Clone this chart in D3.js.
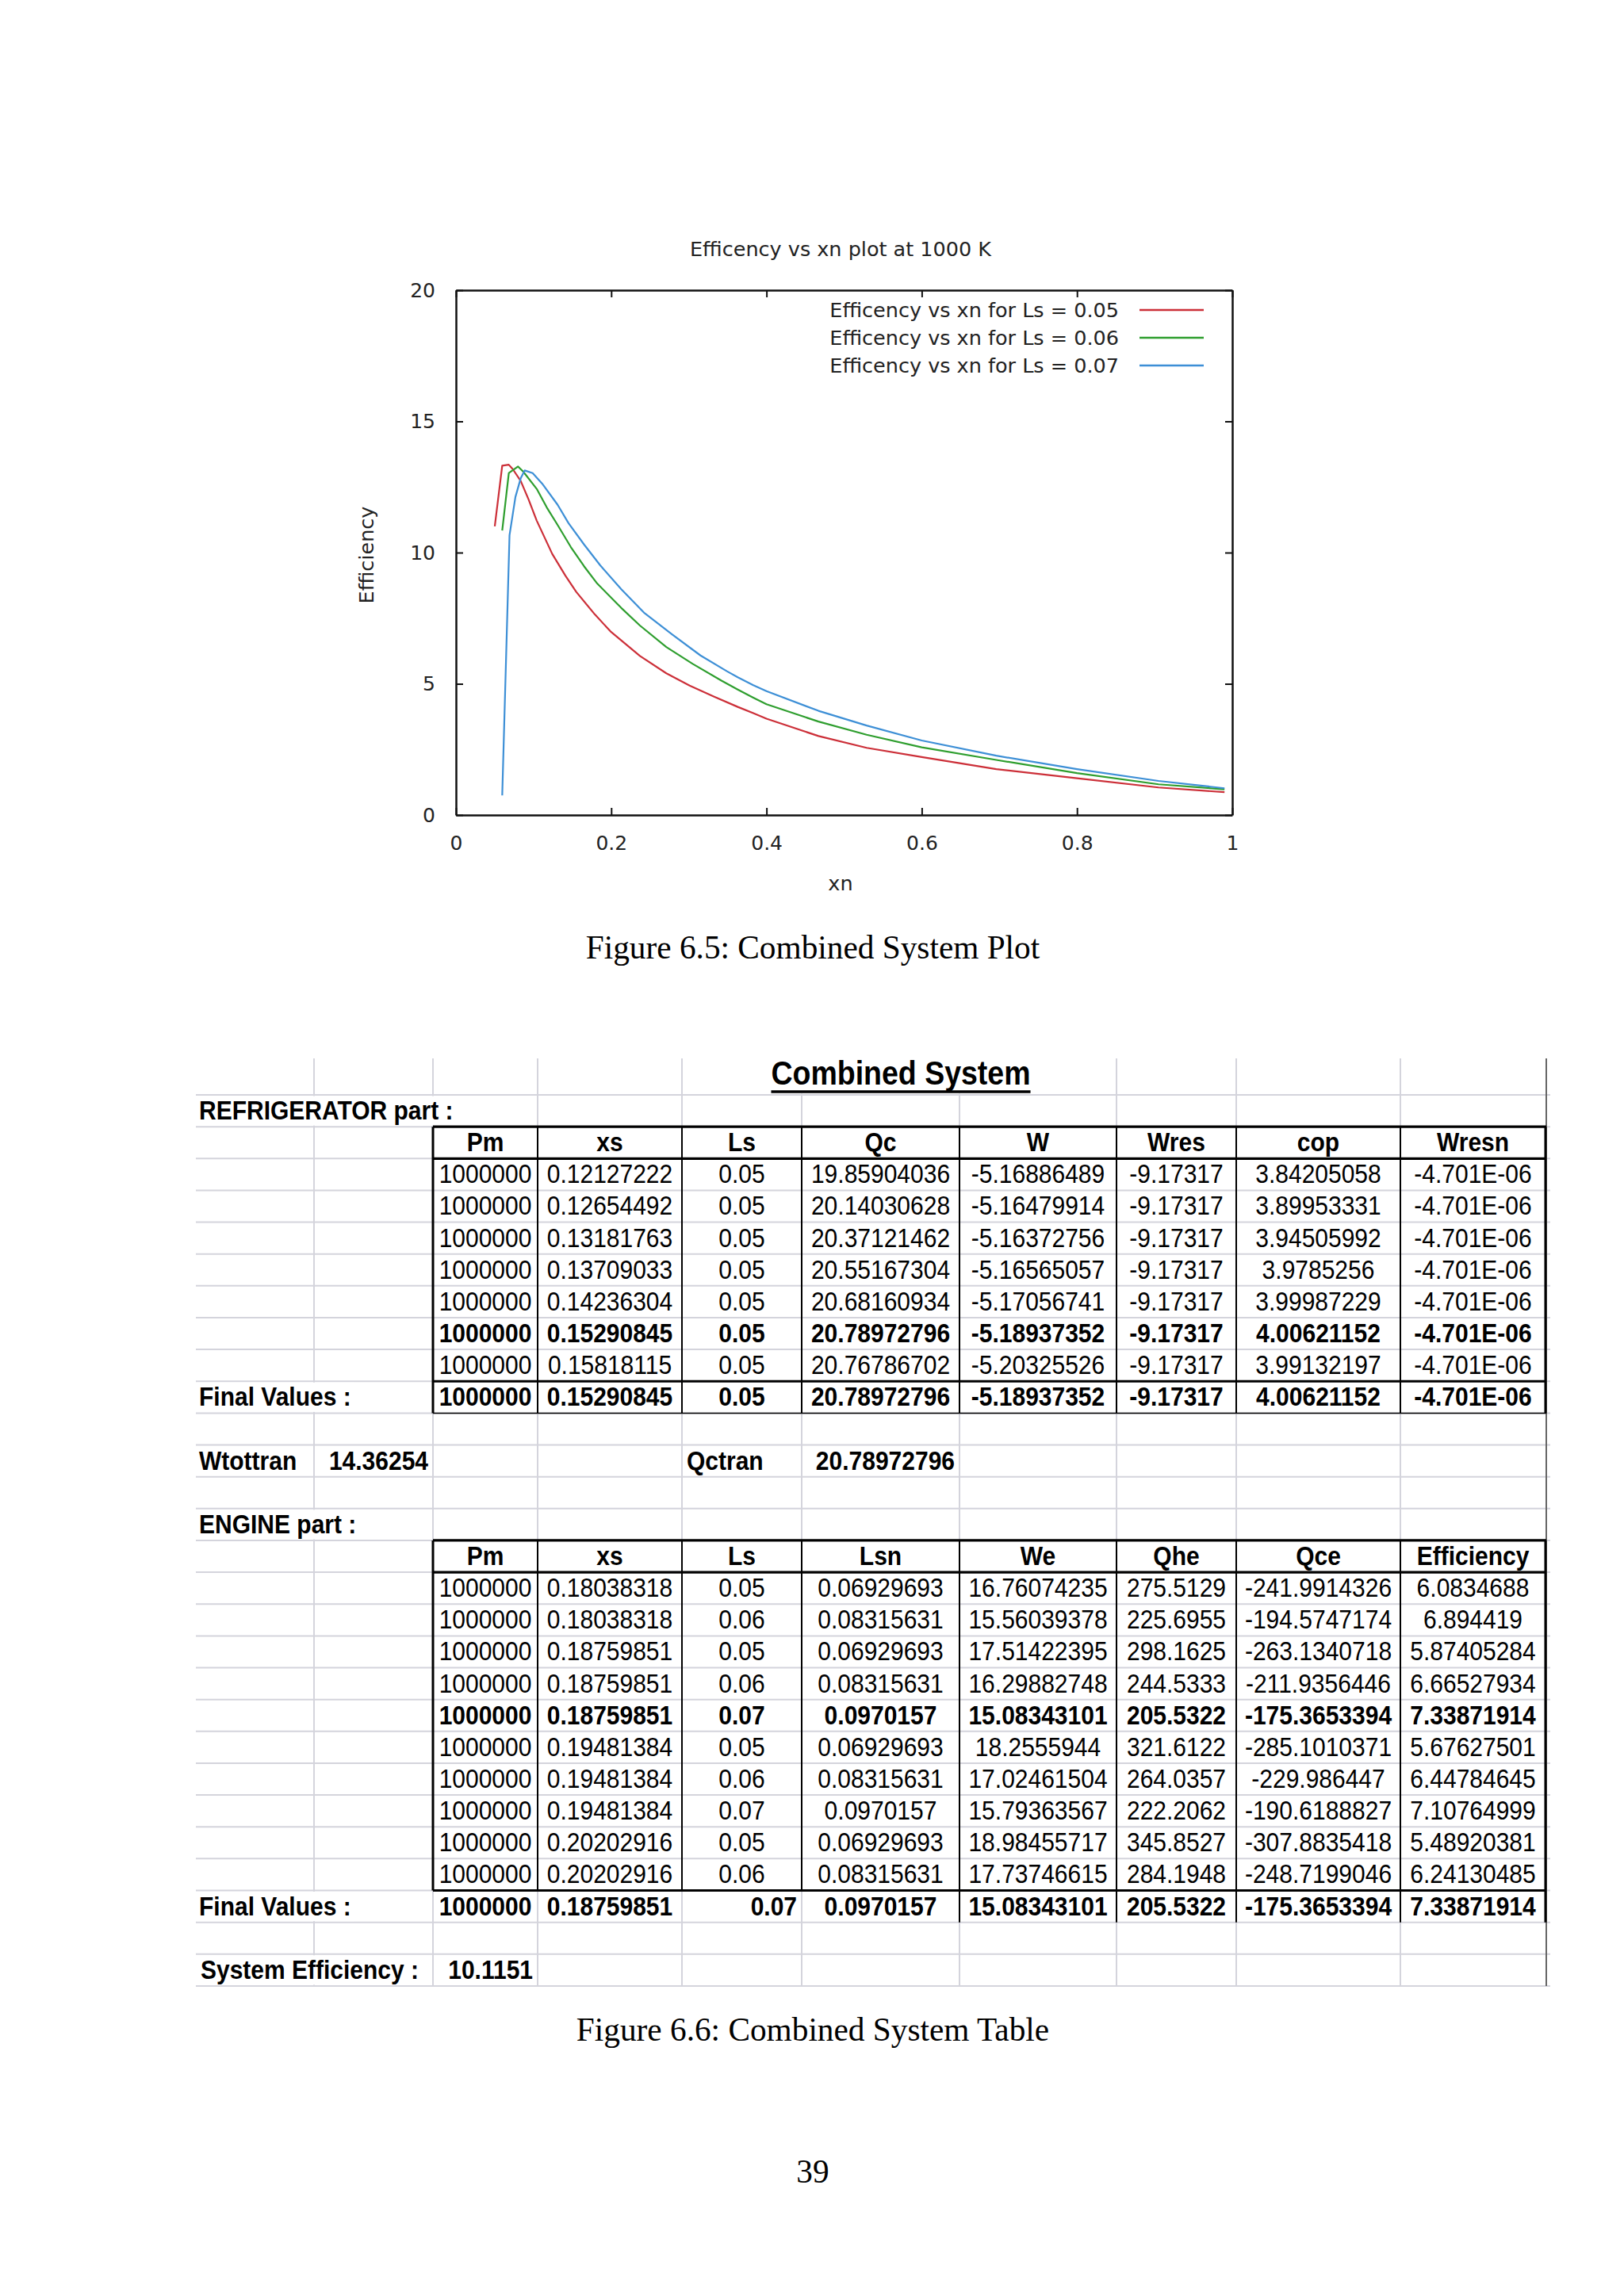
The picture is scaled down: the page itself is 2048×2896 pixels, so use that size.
<!DOCTYPE html>
<html><head><meta charset="utf-8">
<script src="https://cdn.jsdelivr.net/npm/d3@7"></script>
<style>body{margin:0;background:#fff}</style>
</head><body><svg id="c" width="2048" height="2896"></svg>
<script>
// ---------------- chart data ----------------
const chartTitle = "Efficency vs xn plot at 1000 K";
const xLabel = "xn";
const yLabel = "Efficiency";
const xTicks = [0, 0.2, 0.4, 0.6, 0.8, 1];
const yTicks = [0, 5, 10, 15, 20];
const seriesNames = ["Efficency vs xn for Ls = 0.05", "Efficency vs xn for Ls = 0.06", "Efficency vs xn for Ls = 0.07"];
const seriesColors = ["#cc2f38", "#2e9e2e", "#3d8fd6"];

const xnLs005  = [0.050,0.0596,0.068,0.0732,0.0834,0.0936,0.104,0.124,0.141,0.155,0.179,0.199,0.237,0.271,0.301,0.332,0.363,0.383,0.400,0.467,0.529,0.600,0.696,0.800,0.905,0.990];
const effLs005 = [11.0,13.31,13.35,13.18,12.73,12.02,11.22,9.95,9.12,8.50,7.64,7.00,6.06,5.40,4.93,4.52,4.12,3.88,3.67,3.01,2.56,2.21,1.75,1.40,1.05,0.87];
const xnLs006  = [0.0596,0.0681,0.080,0.0868,0.104,0.117,0.131,0.148,0.165,0.182,0.213,0.237,0.271,0.305,0.342,0.363,0.383,0.400,0.467,0.529,0.600,0.696,0.800,0.905,0.990];
const effLs006 = [10.84,13.03,13.28,13.08,12.43,11.72,11.05,10.21,9.48,8.82,7.89,7.22,6.40,5.76,5.12,4.78,4.47,4.22,3.56,3.06,2.58,2.10,1.60,1.17,0.98];
const xnLs007  = [0.0596,0.069,0.0766,0.0834,0.0885,0.0988,0.111,0.131,0.145,0.165,0.186,0.213,0.243,0.278,0.315,0.349,0.363,0.383,0.400,0.467,0.529,0.600,0.696,0.800,0.905,0.990];
const effLs007 = [0.75,10.66,12.12,12.83,13.13,13.03,12.63,11.82,11.12,10.31,9.51,8.60,7.69,6.89,6.08,5.48,5.25,4.95,4.72,3.97,3.41,2.84,2.26,1.75,1.30,1.02];

// ---------------- table data ----------------
const tableTitle = "Combined System";
const refrigLabel = "REFRIGERATOR part :";
const engineLabel = "ENGINE part :";
const finalLabel = "Final Values :";
const refrigHeaders = ["Pm","xs","Ls","Qc","W","Wres","cop","Wresn"];
const refrigPm   = ["1000000","1000000","1000000","1000000","1000000","1000000","1000000"];
const refrigXs   = ["0.12127222","0.12654492","0.13181763","0.13709033","0.14236304","0.15290845","0.15818115"];
const refrigLs   = ["0.05","0.05","0.05","0.05","0.05","0.05","0.05"];
const refrigQc   = ["19.85904036","20.14030628","20.37121462","20.55167304","20.68160934","20.78972796","20.76786702"];
const refrigW    = ["-5.16886489","-5.16479914","-5.16372756","-5.16565057","-5.17056741","-5.18937352","-5.20325526"];
const refrigWres = ["-9.17317","-9.17317","-9.17317","-9.17317","-9.17317","-9.17317","-9.17317"];
const refrigCop  = ["3.84205058","3.89953331","3.94505992","3.9785256","3.99987229","4.00621152","3.99132197"];
const refrigWresn= ["-4.701E-06","-4.701E-06","-4.701E-06","-4.701E-06","-4.701E-06","-4.701E-06","-4.701E-06"];
const refrigBoldRow = 5;
const refrigFinal = ["1000000","0.15290845","0.05","20.78972796","-5.18937352","-9.17317","4.00621152","-4.701E-06"];
const wtotLabel = "Wtottran", wtotValue = "14.36254";
const qctranLabel = "Qctran", qctranValue = "20.78972796";

const engineHeaders = ["Pm","xs","Ls","Lsn","We","Qhe","Qce","Efficiency"];
const enginePm  = ["1000000","1000000","1000000","1000000","1000000","1000000","1000000","1000000","1000000","1000000"];
const engineXs  = ["0.18038318","0.18038318","0.18759851","0.18759851","0.18759851","0.19481384","0.19481384","0.19481384","0.20202916","0.20202916"];
const engineLs  = ["0.05","0.06","0.05","0.06","0.07","0.05","0.06","0.07","0.05","0.06"];
const engineLsn = ["0.06929693","0.08315631","0.06929693","0.08315631","0.0970157","0.06929693","0.08315631","0.0970157","0.06929693","0.08315631"];
const engineWe  = ["16.76074235","15.56039378","17.51422395","16.29882748","15.08343101","18.2555944","17.02461504","15.79363567","18.98455717","17.73746615"];
const engineQhe = ["275.5129","225.6955","298.1625","244.5333","205.5322","321.6122","264.0357","222.2062","345.8527","284.1948"];
const engineQce = ["-241.9914326","-194.5747174","-263.1340718","-211.9356446","-175.3653394","-285.1010371","-229.986447","-190.6188827","-307.8835418","-248.7199046"];
const engineEff = ["6.0834688","6.894419","5.87405284","6.66527934","7.33871914","5.67627501","6.44784645","7.10764999","5.48920381","6.24130485"];
const engineBoldRow = 4;
const engineFinal = ["1000000","0.18759851","0.07","0.0970157","15.08343101","205.5322","-175.3653394","7.33871914"];
const sysEffLabel = "System Efficiency :", sysEffValue = "10.1151";

const caption1 = "Figure 6.5: Combined System Plot";
const caption2 = "Figure 6.6: Combined System Table";
const pageNumber = "39";

// ---------------- drawing ----------------
const svg = d3.select("#c");
svg.append("rect").attr("width",2048).attr("height",2896).attr("fill","#fff");

const chartFont = '"DejaVu Sans", sans-serif';
const X = d3.scaleLinear().domain([0,1]).range([575,1554]);
const Y = d3.scaleLinear().domain([0,20]).range([1028,366]);

function styleAxis(g){
  g.attr("font-family", chartFont).attr("font-size", 25);
  g.select(".domain").attr("stroke","#111").attr("stroke-width",2.5);
  g.selectAll(".tick line").attr("stroke","#111").attr("stroke-width",2);
  g.selectAll(".tick text").attr("fill","#222");
}
svg.append("g").attr("transform","translate(0,1028)")
  .call(d3.axisBottom(X).tickValues(xTicks).tickFormat(d=>String(d)).tickSizeInner(-9).tickSizeOuter(0).tickPadding(26)).call(styleAxis);
svg.append("g").attr("transform","translate(0,366)")
  .call(d3.axisTop(X).tickValues(xTicks).tickFormat("").tickSizeInner(-9).tickSizeOuter(0)).call(styleAxis);
svg.append("g").attr("transform","translate(575,0)")
  .call(d3.axisLeft(Y).tickValues(yTicks).tickFormat(d=>String(d)).tickSizeInner(-9).tickSizeOuter(0).tickPadding(26)).call(styleAxis);
svg.append("g").attr("transform","translate(1554,0)")
  .call(d3.axisRight(Y).tickValues(yTicks).tickFormat("").tickSizeInner(-9).tickSizeOuter(0)).call(styleAxis);

svg.append("text").attr("x",1060).attr("y",323).attr("text-anchor","middle")
  .attr("font-family",chartFont).attr("font-size",25.5).attr("fill","#222").text(chartTitle);
svg.append("text").attr("x",1060).attr("y",1123).attr("text-anchor","middle")
  .attr("font-family",chartFont).attr("font-size",25.5).attr("fill","#222").text(xLabel);
svg.append("text").attr("transform","translate(471,700) rotate(-90)").attr("text-anchor","middle")
  .attr("font-family",chartFont).attr("font-size",25.5).attr("fill","#222").text(yLabel);

const seriesX = [xnLs005, xnLs006, xnLs007];
const seriesY = [effLs005, effLs006, effLs007];
const line = d3.line().x(d=>X(d[0])).y(d=>Y(d[1]));
seriesX.forEach((xs,i)=>{
  const pts = xs.map((v,j)=>[v, seriesY[i][j]]);
  svg.append("path").datum(pts).attr("d",line).attr("fill","none")
    .attr("stroke",seriesColors[i]).attr("stroke-width",2.2).attr("stroke-linejoin","round");
});
seriesNames.forEach((n,i)=>{
  svg.append("text").attr("x",1411).attr("y",400+i*35).attr("text-anchor","end")
    .attr("font-family",chartFont).attr("font-size",25.5).attr("fill","#222").text(n);
  svg.append("line").attr("x1",1437).attr("x2",1518).attr("y1",391+i*35).attr("y2",391+i*35)
    .attr("stroke",seriesColors[i]).attr("stroke-width",2.5);
});

// captions
const serif = '"Liberation Serif", "Times New Roman", serif';
svg.append("text").attr("x",1025).attr("y",1209).attr("text-anchor","middle").attr("font-family",serif).attr("font-size",41.3).attr("fill","#000").text(caption1);
svg.append("text").attr("x",1025).attr("y",2574).attr("text-anchor","middle").attr("font-family",serif).attr("font-size",41.3).attr("fill","#000").text(caption2);
svg.append("text").attr("x",1025).attr("y",2753).attr("text-anchor","middle").attr("font-family",serif).attr("font-size",41.3).attr("fill","#000").text(pageNumber);

// ---------------- table ----------------
const tFont = '"Liberation Sans", Arial, sans-serif';
const tSize = 30;
const vStretch = 1.13;
const cols = [247, 396, 546, 678, 860, 1011, 1210, 1408, 1559, 1766, 1949];
const rowH = 40.14;
const rowY = i => 1381 + i*rowH;
const gridTop = 1335, gridBottom = rowY(28);
const grid = svg.append("g");
const masks = svg.append("g");
const borders = svg.append("g");
const texts = svg.append("g").attr("font-family",tFont).attr("font-size",tSize).attr("fill","#000");

cols.slice(1,10).forEach(x=>grid.append("line").attr("x1",x).attr("x2",x).attr("y1",gridTop).attr("y2",gridBottom).attr("stroke","#d4d4dc").attr("stroke-width",2));
for(let i=0;i<=28;i++) grid.append("line").attr("x1",247).attr("x2",1955).attr("y1",rowY(i)).attr("y2",rowY(i)).attr("stroke","#d4d4dc").attr("stroke-width",2);
grid.append("line").attr("x1",1950).attr("x2",1950).attr("y1",gridTop).attr("y2",gridBottom).attr("stroke","#666").attr("stroke-width",2);

function placed(x, y, anchor, bold, str){
  return texts.append("text").attr("transform",`translate(${x},${y}) scale(1,${vStretch})`)
    .attr("text-anchor",anchor).attr("font-weight",bold?"bold":"normal").text(str);
}
function cellText(str, row, ci, bold, align){
  const left = cols[ci], right = cols[ci+1];
  let x = (left+right)/2, anchor = "middle";
  if(align==="right"){ x = right-6; anchor="end"; }
  if(align==="left"){ x = left+5; anchor="start"; }
  return placed(x, rowY(row)+31, anchor, bold, str);
}
function label(str, row, x, bold){
  const t = placed(x, rowY(row)+31, "start", bold, str);
  const w = t.node().getComputedTextLength();
  masks.append("rect").attr("x",x-2).attr("y",rowY(row)+1.5).attr("width",w+6).attr("height",rowH-3).attr("fill","#fff");
  return t;
}

// title
const tt = placed(1136, 1368, "middle", true, tableTitle).attr("font-size",37.5);
const tw = tt.node().getComputedTextLength();
masks.append("rect").attr("x",1136-tw/2-4).attr("y",gridTop).attr("width",tw+8).attr("height",rowY(0)-gridTop-1.5).attr("fill","#fff");
borders.append("line").attr("x1",1136-tw/2).attr("x2",1136+tw/2).attr("y1",1377).attr("y2",1377).attr("stroke","#000").attr("stroke-width",3.5);

// refrigerator
label(refrigLabel, 0, 251, true);
refrigHeaders.forEach((h,j)=>cellText(h,1,j+2,true));
const refrigCols = [refrigPm, refrigXs, refrigLs, refrigQc, refrigW, refrigWres, refrigCop, refrigWresn];
refrigCols.forEach((col,j)=>col.forEach((v,r)=>cellText(v, r+2, j+2, r===refrigBoldRow)));
label(finalLabel, 9, 251, true);
refrigFinal.forEach((v,j)=>cellText(v, 9, j+2, true));

label(wtotLabel, 11, 251, true);
cellText(wtotValue, 11, 1, true, "right");
label(qctranLabel, 11, 866, true);
cellText(qctranValue, 11, 5, true, "right");

// engine
label(engineLabel, 13, 251, true);
engineHeaders.forEach((h,j)=>cellText(h,14,j+2,true));
const engineCols = [enginePm, engineXs, engineLs, engineLsn, engineWe, engineQhe, engineQce, engineEff];
engineCols.forEach((col,j)=>col.forEach((v,r)=>cellText(v, r+15, j+2, r===engineBoldRow)));
label(finalLabel, 25, 251, true);
engineFinal.forEach((v,j)=>cellText(v, 25, j+2, true, j===2 ? "right" : undefined));

label(sysEffLabel, 27, 253, true);
cellText(sysEffValue, 27, 2, true, "right");

// table borders
function hline(x1,x2,y,w){ borders.append("line").attr("x1",x1).attr("x2",x2).attr("y1",y).attr("y2",y).attr("stroke","#000").attr("stroke-width",w); }
function vline(x,y1,y2,w){ borders.append("line").attr("x1",x).attr("x2",x).attr("y1",y1).attr("y2",y2).attr("stroke","#000").attr("stroke-width",w); }
// refrigerator box
hline(546,1950,rowY(1),3.2); hline(546,1950,rowY(2),3.2); hline(546,1950,rowY(9),3.2); hline(546,1950,rowY(10),1.5);
vline(546,rowY(1),rowY(10),3); vline(1949,rowY(1),rowY(10),3);
cols.slice(3,10).forEach(x=>vline(x,rowY(1),rowY(10),2));
// engine box
hline(546,1950,rowY(14),3.2); hline(546,1950,rowY(15),3.2); hline(546,1950,rowY(25),3.2);
vline(546,rowY(14),rowY(25),3); vline(1949,rowY(14),rowY(26),3);
cols.slice(3,10).forEach(x=>vline(x,rowY(14),rowY(25),2));
[1210,1408,1559,1766].forEach(x=>vline(x,rowY(25),rowY(26),2));
</script>
</body></html>
